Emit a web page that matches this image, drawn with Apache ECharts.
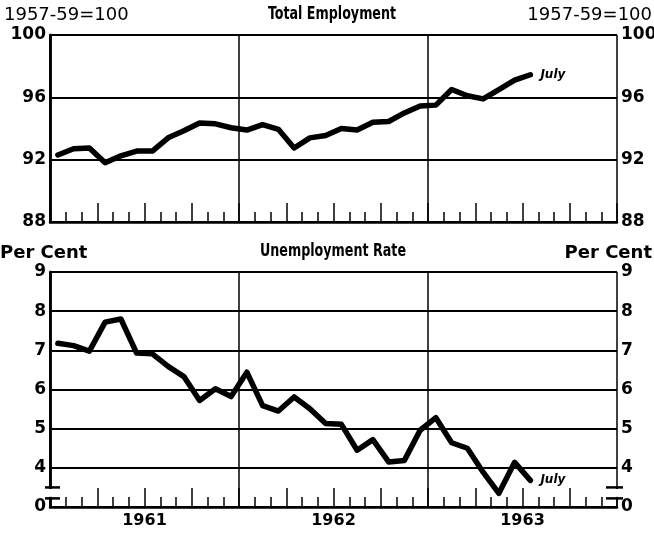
<!DOCTYPE html>
<html>
<head>
<meta charset="utf-8">
<script src="https://cdn.jsdelivr.net/npm/echarts@6/dist/echarts.min.js"></script>
<style>
html, body { margin: 0; padding: 0; background: #fff; }
#main { width: 654px; height: 535px; }
</style>
</head>
<body>
<div id="main"></div>
<script>
// months plotted, Jan 1961 .. Jul 1963
var months = [
    '1961-01','1961-02','1961-03','1961-04','1961-05','1961-06','1961-07','1961-08','1961-09','1961-10','1961-11','1961-12',
    '1962-01','1962-02','1962-03','1962-04','1962-05','1962-06','1962-07','1962-08','1962-09','1962-10','1962-11','1962-12',
    '1963-01','1963-02','1963-03','1963-04','1963-05','1963-06','1963-07'
];
var yearLabels = ['1961', '1962', '1963'];

// Total employment, 1957-59=100
var employment = [92.3, 92.7, 92.75, 91.8, 92.25, 92.55, 92.55, 93.4, 93.85, 94.35, 94.3, 94.05,
    93.9, 94.25, 93.95, 92.75, 93.4, 93.55, 94.0, 93.9, 94.4, 94.45, 95.0, 95.45,
    95.5, 96.5, 96.1, 95.9, 96.5, 97.1, 97.45];

// Unemployment rate, per cent
var unemployment = [7.18, 7.12, 6.98, 7.72, 7.8, 6.93, 6.91, 6.59, 6.33, 5.72, 6.02, 5.82,
    6.44, 5.59, 5.45, 5.81, 5.51, 5.13, 5.11, 4.45, 4.72, 4.15, 4.19, 4.96,
    5.28, 4.64, 4.5, 3.89, 3.35, 4.14, 3.68];

var empTicks = [88, 92, 96, 100];
var rateTicks = [3, 4, 5, 6, 7, 8, 9];   // bottom of scale is broken and labelled 0

var numFont = 'DejaVu Sans';
var narrowFont = "'Liberation Sans Narrow', 'DejaVu Sans Condensed', sans-serif";

// month index -> middle of the month on a 36 month axis
function toPoints(values) {
    return months.map(function (m, i) {
        var parts = m.split('-');
        var idx = (parseInt(parts[0], 10) - 1961) * 12 + parseInt(parts[1], 10) - 1;
        return [idx + 0.5, values[i]];
    });
}

function monthAxis(grid, showLabels) {
    return {
        type: 'value', gridIndex: grid, min: 0, max: 36, interval: 3,
        axisLine: { show: true, lineStyle: { color: '#000', width: 2.5 } },
        axisTick: { show: true, inside: true, length: 19, lineStyle: { color: '#000', width: 1.5 } },
        minorTick: { show: true, splitNumber: 3, length: 10, lineStyle: { color: '#000', width: 1.5 } },
        splitLine: { show: false },
        axisLabel: {
            show: showLabels, margin: 6, color: '#000',
            fontFamily: numFont, fontSize: 16, fontWeight: 'bold',
            formatter: function (v) {
                var k = (v - 6) / 12;
                return (k >= 0 && k < yearLabels.length && k % 1 === 0) ? yearLabels[k] : '';
            }
        }
    };
}

function yearAxis(grid) {
    return {
        type: 'value', gridIndex: grid, min: 0, max: 36, interval: 12,
        axisLine: { show: false }, axisTick: { show: false }, axisLabel: { show: false },
        splitLine: { show: true, lineStyle: { color: '#000', width: 1.5 } }
    };
}

function valAxis(grid, pos, ticks, gridLines, fmt) {
    return {
        type: 'value', gridIndex: grid, position: pos,
        min: ticks[0], max: ticks[ticks.length - 1], interval: ticks[1] - ticks[0],
        axisLine: { show: true, lineStyle: { color: '#000', width: 2.5 } },
        axisTick: { show: false },
        splitLine: { show: gridLines, lineStyle: { color: '#000', width: 2 } },
        axisLabel: {
            margin: 4, color: '#000', fontFamily: numFont, fontSize: 17, fontWeight: 'bold',
            formatter: fmt
        }
    };
}

function rateFmt(v) { return v === 3 ? '0' : String(v); }

function lineSeries(xi, yi, values) {
    return {
        type: 'line', xAxisIndex: xi, yAxisIndex: yi,
        data: toPoints(values),
        symbol: 'none', silent: true,
        lineStyle: { color: '#000', width: 5.5, cap: 'round', join: 'round' },
        endLabel: {
            show: true, formatter: 'July', distance: 10, color: '#000',
            fontFamily: numFont, fontSize: 12, fontWeight: 'bold', fontStyle: 'italic'
        }
    };
}

var myChart = echarts.init(document.getElementById('main'));
var option = {
    animation: false,
    backgroundColor: '#fff',
    grid: [
        { left: 50, top: 35, width: 567, height: 187, containLabel: false, outerBoundsMode: 'none' },
        { left: 50, top: 272, width: 567, height: 235, containLabel: false, outerBoundsMode: 'none' }
    ],
    xAxis: [monthAxis(0, false), yearAxis(0), monthAxis(1, true), yearAxis(1)],
    yAxis: [
        valAxis(0, 'left', empTicks, true),
        valAxis(0, 'right', empTicks, false),
        valAxis(1, 'left', rateTicks, true, rateFmt),
        valAxis(1, 'right', rateTicks, false, rateFmt)
    ],
    series: [
        lineSeries(0, 0, employment),
        lineSeries(2, 2, unemployment)
    ]
};
myChart.setOption(option);

// headings and the scale-break marks on the lower panel
function txt(s, x, y, align, font, sx) {
    return {
        type: 'text', x: x, y: y, scaleX: sx || 1, silent: true,
        style: { text: s, fill: '#000', font: font, align: align, verticalAlign: 'middle',
                 textAlign: align, textVerticalAlign: 'middle' }
    };
}
var hdr = '18px ' + numFont;
var perCent = 'bold 18px ' + numFont;
var ttl = 'bold 17px ' + narrowFont;

var pHi = myChart.convertToPixel({ gridIndex: 1 }, [0, 3.5]);
var pLo = myChart.convertToPixel({ gridIndex: 1 }, [0, 3.22]);
var pR = myChart.convertToPixel({ gridIndex: 1 }, [36, 3.5]);
var gfx = [
    txt('1957-59=100', 4, 15, 'left', hdr),
    txt('1957-59=100', 652, 15, 'right', hdr),
    txt('Total Employment', 332, 15, 'center', ttl, 0.83),
    txt('Per Cent', 0, 253, 'left', perCent),
    txt('Per Cent', 652, 253, 'right', perCent),
    txt('Unemployment Rate', 333, 252, 'center', ttl, 0.83)
];
[[pHi[0], -5, 10], [pR[0], -11, 6]].forEach(function (b) {
    var x = b[0];
    gfx.push({ type: 'rect', silent: true, z: 100,
        shape: { x: x - 4, y: pHi[1] + 1.5, width: 8, height: pLo[1] - pHi[1] - 3 },
        style: { fill: '#fff' } });
    [pHi[1], pLo[1]].forEach(function (y) {
        gfx.push({ type: 'line', silent: true, z: 101,
            shape: { x1: x + b[1], y1: y, x2: x + b[2], y2: y },
            style: { stroke: '#000', lineWidth: 2.5 } });
    });
});
myChart.setOption({ graphic: gfx });
</script>
</body>
</html>
